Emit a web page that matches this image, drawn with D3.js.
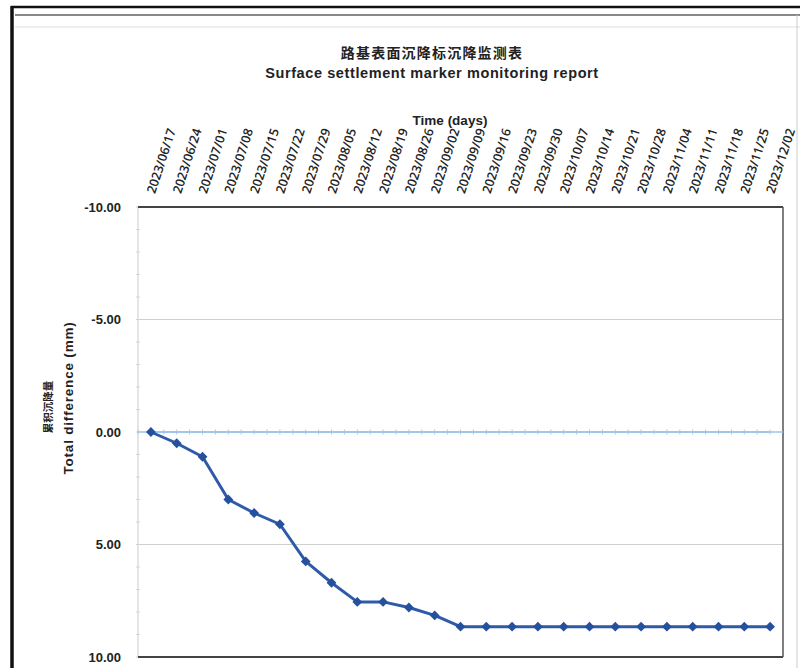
<!DOCTYPE html>
<html><head><meta charset="utf-8">
<script src="https://cdn.jsdelivr.net/npm/d3@7"></script>
<style>
html,body{margin:0;padding:0;background:#fff;}
svg{display:block;}
</style></head>
<body>
<svg id="chart" width="800" height="668"></svg>
<script>
const dates = ["2023/06/17","2023/06/24","2023/07/01","2023/07/08","2023/07/15","2023/07/22","2023/07/29","2023/08/05","2023/08/12","2023/08/19","2023/08/26","2023/09/02","2023/09/09","2023/09/16","2023/09/23","2023/09/30","2023/10/07","2023/10/14","2023/10/21","2023/10/28","2023/11/04","2023/11/11","2023/11/18","2023/11/25","2023/12/02"];
const settlement = [0, 0.5, 1.1, 3.0, 3.6, 4.1, 5.75, 6.7, 7.55, 7.55, 7.8, 8.15, 8.65, 8.65, 8.65, 8.65, 8.65, 8.65, 8.65, 8.65, 8.65, 8.65, 8.65, 8.65, 8.65];
const baseline = dates.map(() => 0);
const yTicks = [-10, -5, 0, 5, 10];
const titleCN = "路基表面沉降标沉降监测表";
const titleEN = "Surface settlement marker monitoring report";
const xTitle = "Time (days)";
const yTitleCN = "累积沉降量";
const yTitleEN = "Total difference  (mm)";

const svg = d3.select("#chart");
const L = 138, R = 783, T = 207, B = 657;

// outer frame
svg.append("line").attr("x1",11).attr("x2",800).attr("y1",7).attr("y2",7).attr("stroke","#111").attr("stroke-width",2.5);
svg.append("line").attr("x1",15).attr("x2",800).attr("y1",15).attr("y2",15).attr("stroke","#888").attr("stroke-width",2);
svg.append("line").attr("x1",15).attr("x2",800).attr("y1",27).attr("y2",27).attr("stroke","#ddd").attr("stroke-width",1);
svg.append("line").attr("x1",12).attr("x2",12).attr("y1",6).attr("y2",668).attr("stroke","#111").attr("stroke-width",3.5);
svg.append("line").attr("x1",797).attr("x2",797).attr("y1",15).attr("y2",668).attr("stroke","#ccc").attr("stroke-width",1);

const x = d3.scaleBand().domain(dates).range([L, R]).paddingInner(0).paddingOuter(0);
const cx = d => x(d) + x.bandwidth()/2;
const y = d3.scaleLinear().domain([-10, 10]).range([T, B]);

// gridlines
svg.append("g").selectAll("line").data(yTicks.filter(v => v !== -10 && v !== 10 && v !== 0)).join("line")
  .attr("x1", L).attr("x2", R).attr("y1", d => y(d)).attr("y2", d => y(d))
  .attr("stroke", "#cfcfcf").attr("stroke-width", 1.2);

// left axis line with minor ticks
svg.append("line").attr("x1",L).attr("x2",L).attr("y1",T).attr("y2",B).attr("stroke","#d4d4d4").attr("stroke-width",1.2);
svg.append("g").selectAll("line").data(d3.range(-10, 10.01, 1)).join("line")
  .attr("x1", L-2).attr("x2", L+2).attr("y1", d => y(d)).attr("y2", d => y(d))
  .attr("stroke", "#d4d4d4").attr("stroke-width", 1);

// top / bottom / right borders
svg.append("line").attr("x1",L).attr("x2",R).attr("y1",y(-10)).attr("y2",y(-10)).attr("stroke","#444").attr("stroke-width",2);
svg.append("line").attr("x1",L).attr("x2",R).attr("y1",y(10)).attr("y2",y(10)).attr("stroke","#444").attr("stroke-width",2);
svg.append("line").attr("x1",R).attr("x2",R).attr("y1",y(-10)).attr("y2",y(10)).attr("stroke","#555").attr("stroke-width",1.5);

// zero baseline series with small ticks
svg.append("line").attr("x1",L).attr("x2",R).attr("y1",y(0)).attr("y2",y(0)).attr("stroke","#9cc2e8").attr("stroke-width",1.5);
const halfTicks = [];
dates.forEach(d => { halfTicks.push(x(d)); halfTicks.push(cx(d)); });
svg.append("g").selectAll("line").data(halfTicks).join("line")
  .attr("x1", d => d).attr("x2", d => d).attr("y1", y(0)-2.5).attr("y2", y(0)+2.5)
  .attr("stroke", "#a9c8e6").attr("stroke-width", 1);
svg.append("path").datum(baseline)
  .attr("d", d3.line().x((d,i) => cx(dates[i])).y(d => y(d)))
  .attr("fill","none").attr("stroke","#9cc2e8").attr("stroke-width",1.5);

// main series
svg.append("path").datum(settlement)
  .attr("d", d3.line().x((d,i) => cx(dates[i])).y(d => y(d)))
  .attr("fill","none").attr("stroke","#2f5aa8").attr("stroke-width",3).attr("stroke-linejoin","round");
svg.append("g").selectAll("path").data(settlement).join("path")
  .attr("d", d3.symbol(d3.symbolSquare, 48))
  .attr("transform", (d,i) => `translate(${cx(dates[i])},${y(d)}) rotate(45)`)
  .attr("fill","#24509e");

// y axis labels
const yAxis = svg.append("g").attr("transform", `translate(${L-17},0)`)
  .call(d3.axisLeft(y).tickValues(yTicks).tickSize(0).tickPadding(0).tickFormat(d => d.toFixed(2)));
yAxis.select(".domain").remove();
yAxis.selectAll("text").attr("font-family","'Liberation Sans', Arial, sans-serif").attr("font-size",13).attr("font-weight","bold").attr("fill","#222");

// x axis labels (top, rotated)
const xAxis = svg.append("g").attr("transform", `translate(0,193)`)
  .call(d3.axisTop(x).tickSize(0).tickPadding(0));
xAxis.select(".domain").remove();
xAxis.selectAll("text")
  .attr("x",0).attr("y",0).attr("dy","0.35em")
  .attr("text-anchor","start")
  .attr("transform","rotate(-72)")
  .attr("font-family","'Open Sans', sans-serif").attr("font-size",12.6).attr("font-weight","600").attr("fill","#222");

// titles
svg.append("text").attr("x",432).attr("y",58).attr("text-anchor","middle")
  .attr("font-family","'Noto Sans CJK SC', sans-serif").attr("font-size",14).attr("font-weight","bold").attr("letter-spacing",1.2).attr("fill","#222").text(titleCN);
svg.append("text").attr("x",432).attr("y",78).attr("text-anchor","middle")
  .attr("font-family","'Liberation Sans', Arial, sans-serif").attr("font-size",14.5).attr("font-weight","bold").attr("letter-spacing",0.6).attr("fill","#222").text(titleEN);
svg.append("text").attr("x",450).attr("y",125).attr("text-anchor","middle")
  .attr("font-family","'Liberation Sans', Arial, sans-serif").attr("font-size",13.5).attr("font-weight","bold").attr("fill","#222").text(xTitle);

svg.append("text").attr("transform","translate(52,407) rotate(-90)").attr("text-anchor","middle")
  .attr("font-family","'Noto Sans CJK SC', sans-serif").attr("font-size",10.5).attr("font-weight","bold").attr("fill","#222").text(yTitleCN);
svg.append("text").attr("transform","translate(73,398) rotate(-90)").attr("text-anchor","middle")
  .attr("font-family","'Liberation Sans', Arial, sans-serif").attr("font-size",13.5).attr("font-weight","bold").attr("letter-spacing",0.8).attr("fill","#222").text(yTitleEN);
</script>
</body></html>
